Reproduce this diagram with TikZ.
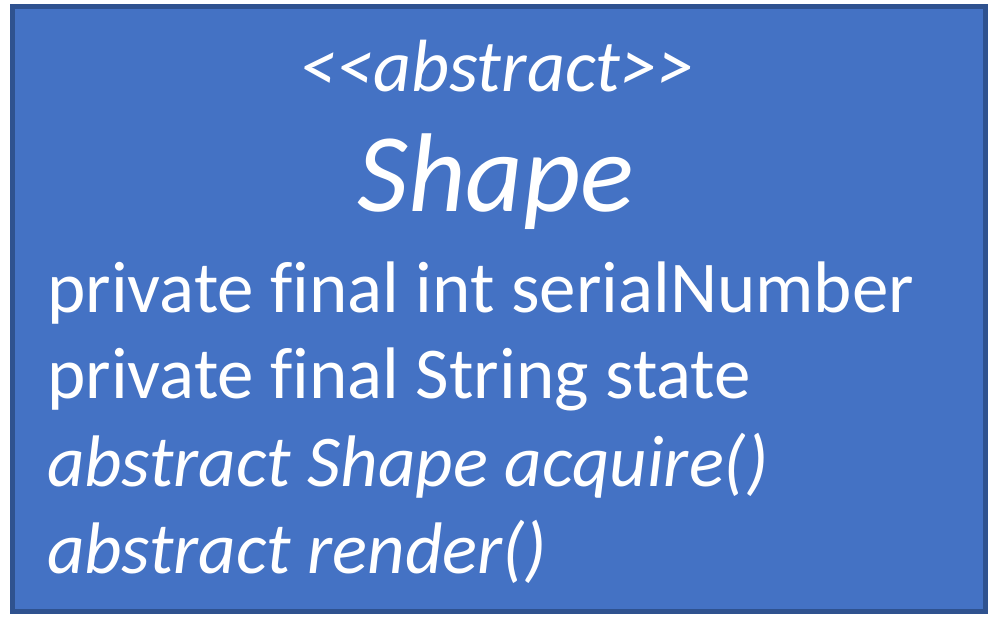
\documentclass[tikz,border=0pt]{standalone}
\usepackage{fontspec}
\newfontfamily\umlfont{Carlito}[Ligatures=NoCommon]
\usetikzlibrary{positioning}
\definecolor{boxblue}{HTML}{4472C4}
\definecolor{boxedge}{HTML}{2F528F}

\begin{document}
\begin{tikzpicture}[x=1pt,y=-1pt,every node/.style={text=white,inner sep=0pt},
  uml/member/.style={anchor=base west,font=\umlfont\fontsize{73}{80}\selectfont},
  uml/abstract member/.style={uml/member,font=\umlfont\fontsize{73}{80}\selectfont\itshape}]
  \useasboundingbox (0,0) rectangle (988,639);
  %class box
  \draw[boxedge,fill=boxblue,line width=5pt] (12.5,6.5) rectangle (985.5,611.5);

  %stereotype and name
  \node[anchor=base,font=\umlfont\fontsize{74}{80}\selectfont\itshape] (stereo) at (497,92) {<<abstract>>};
  \node[anchor=base,font=\umlfont\fontsize{112}{120}\selectfont\itshape] (cname) at (496,212) {Shape};

  %members
  \node[uml/member] (serial) at (47,312) {private final int serialNumber};
  \node[uml/member] (state) at (47,398) {private final String state};
  \node[uml/abstract member] (acquire) at (47,486) {abstract Shape acquire()};
  \node[uml/abstract member] (render) at (47,573) {abstract render()};
\end{tikzpicture}
\end{document}
